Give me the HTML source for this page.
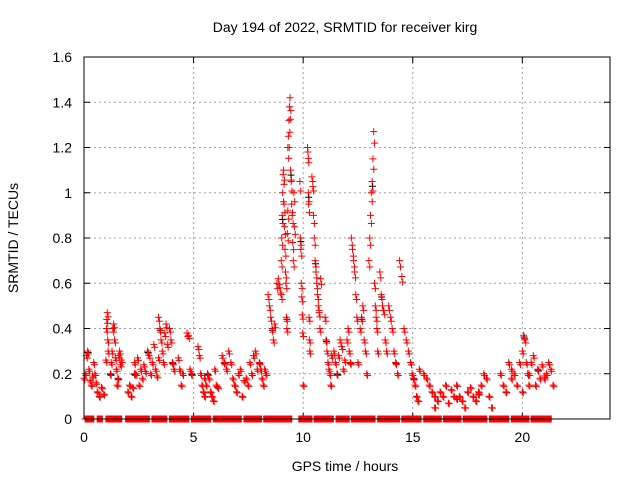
<!DOCTYPE html>
<html><head><meta charset="utf-8"><style>
body{margin:0;background:#fff;}
svg{display:block;font-family:"Liberation Sans",sans-serif;}
</style></head><body>
<svg id="chart" width="640" height="480" viewBox="0 0 640 480" xmlns="http://www.w3.org/2000/svg">
<rect width="640" height="480" fill="#fff"/>
<text x="345" y="32" text-anchor="middle" font-size="14">Day 194 of 2022, SRMTID for receiver kirg</text>
<text x="345" y="471" text-anchor="middle" font-size="14">GPS time / hours</text>
<text transform="translate(18,238) rotate(-90)" text-anchor="middle" font-size="14">SRMTID / TECUs</text>
<g id="grid"></g>
<g id="ticks"></g>
<g id="pts"></g>
<rect x="84" y="57" width="526" height="362" fill="none" stroke="#000" stroke-width="1"/>
</svg>
<script>
const xTicks=[0,5,10,15,20];
const yTicks=[0,0.2,0.4,0.6,0.8,1,1.2,1.4,1.6];
const yTickLabels=["0","0.2","0.4","0.6","0.8","1","1.2","1.4","1.6"];
const groupStart=[0,0.6,1.0,1.2,2.0,2.3,2.9,3.4,3.9,4.3,4.7,5.2,5.5,6.3,6.7,7.4,8.0,8.4,8.8,9.0,9.3,9.85,10.2,10.4,11.0,11.4,12.0,12.6,13.0,13.5,13.9,14.4,14.9,15.5,16.0,17.0,18.0,19.0,19.5,20.0,20.3,21.0];
const groupEnd=[0.55,0.9,1.1,1.7,2.3,2.8,3.4,3.8,4.1,4.5,4.9,5.5,6.1,6.6,7.3,7.9,8.3,8.7,9.0,9.3,9.6,10.0,10.3,10.8,11.3,11.9,12.5,12.9,13.4,13.8,14.3,14.8,15.3,16.0,17.0,18.0,18.6,19.5,20.0,20.3,21.0,21.4];
const groupValues=[
[0.18,0.2,0.28,0.3,0.22,0.17,0.15,0.19,0.25,0.2,0.16],
[0.12,0.1,0.14,0.11],
[0.26,0.4,0.44,0.47,0.35,0.3],
[0.2,0.25,0.3,0.4,0.42,0.35,0.27,0.22,0.15,0.18,0.28,0.3,0.24,0.26],
[0.12,0.15,0.1,0.14,0.2],
[0.25,0.2,0.27,0.15,0.22,0.18,0.24,0.21],
[0.3,0.28,0.2,0.25,0.33,0.22,0.19,0.27],
[0.45,0.4,0.35,0.3,0.25,0.38,0.42,0.33],
[0.4,0.35,0.25,0.22],
[0.27,0.22,0.15,0.2],
[0.38,0.37,0.22,0.2],
[0.32,0.28,0.2,0.15,0.12,0.18],
[0.1,0.15,0.2,0.18,0.12,0.1,0.08,0.22,0.15,0.14],
[0.28,0.25,0.22,0.3],
[0.25,0.18,0.15,0.12,0.2,0.22,0.1,0.17],
[0.18,0.15,0.25,0.2,0.28,0.3,0.22],
[0.25,0.22,0.18,0.15,0.22,0.2],
[0.55,0.5,0.45,0.4,0.35,0.42],
[0.6,0.62,0.58,0.55],
[0.7,0.8,0.9,1.0,1.08,1.1,0.95,0.85,0.75,0.65,0.6,0.45,0.4,0.82,0.92],
[1.2,1.25,1.32,1.38,1.42,1.1,1.05,0.95,0.9,0.78,0.7,1.0,0.85],
[1.05,0.8,0.75,0.6,0.54,0.46,0.38,0.15],
[1.2,1.18,1.0,0.95,0.45,0.35,0.3],
[1.07,1.05,0.9,0.8,0.7,0.65,0.6,0.55,0.5,0.47,0.4,0.62],
[0.45,0.35,0.3,0.25,0.22,0.2,0.15,0.28],
[0.3,0.25,0.2,0.28,0.35,0.32,0.22,0.26],
[0.35,0.4,0.3,0.25,0.8,0.75,0.7,0.65,0.55,0.45,0.25],
[0.4,0.45,0.5,0.35,0.3,0.2],
[0.7,0.8,0.9,1.0,1.05,1.15,1.27,0.6,0.5,0.45,0.4,0.3],
[0.65,0.55,0.5,0.48,0.35,0.3],
[0.5,0.45,0.4,0.3,0.25,0.2],
[0.7,0.63,0.4,0.35,0.3],
[0.25,0.2,0.18,0.15,0.1,0.08,0.22],
[0.2,0.18,0.15,0.12,0.1],
[0.05,0.08,0.12,0.1,0.15,0.07,0.13,0.1,0.09],
[0.15,0.1,0.08,0.05,0.12,0.14,0.1,0.08,0.11],
[0.12,0.15,0.2,0.18,0.1,0.05],
[0.2,0.15,0.12,0.25,0.18],
[0.22,0.2,0.15,0.25,0.12],
[0.3,0.37,0.35,0.25,0.2,0.15],
[0.2,0.25,0.28,0.15,0.22,0.18,0.24,0.19],
[0.18,0.2,0.25,0.22,0.15]];
const zeroStart=[0.05,0.6,1.0,1.9,3.1,3.9,4.9,5.9,7.3,8.2,9.8,10.5,11.5,12.2,13.4,14.5,15.5,16.4,17.3,18.5,19.5,20.4];
const zeroEnd=[0.45,0.85,1.75,3.0,3.8,4.8,5.8,7.2,8.1,9.5,10.4,11.4,12.1,13.3,14.4,15.4,16.3,17.2,18.4,19.4,20.3,21.35];

const X=t=>84+t*(526/24);
const Y=v=>419-v*(362/1.6);
const ns="http://www.w3.org/2000/svg";
const grid=document.getElementById('grid'),ticks=document.getElementById('ticks'),pts=document.getElementById('pts');
function mk(tag,attrs,parent){const e=document.createElementNS(ns,tag);for(const k in attrs)e.setAttribute(k,attrs[k]);parent.appendChild(e);return e;}
xTicks.forEach(t=>{
  const x=X(t);
  if(t>0){const g=mk('line',{x1:x,x2:x,y1:57,y2:419,stroke:'#a0a0a0','stroke-dasharray':'2,3'},grid);
  
  }
  mk('line',{x1:x,x2:x,y1:419,y2:413,stroke:'#000'},ticks);
  mk('line',{x1:x,x2:x,y1:57,y2:63,stroke:'#000'},ticks);
  const l=mk('text',{x:x,y:442,'text-anchor':'middle','font-size':14},ticks);
  l.textContent=String(t);
  
  
});
yTicks.forEach((v,i)=>{
  const y=Y(v);
  if(v>0&&v<1.6){const g=mk('line',{x1:84,x2:610,y1:y,y2:y,stroke:'#a0a0a0','stroke-dasharray':'2,3'},grid);
  
  }
  mk('line',{x1:84,x2:90,y1:y,y2:y,stroke:'#000'},ticks);
  mk('line',{x1:610,x2:604,y1:y,y2:y,stroke:'#000'},ticks);
  const l=mk('text',{x:72,y:y+5,'text-anchor':'end','font-size':14},ticks);
  l.textContent=yTickLabels[i];
  
  
});
let d='',dk='';
function cross(t,v){const x=X(t),y=Y(v);return `M${x-3.5} ${y}h7M${x} ${y-3.5}v7`;}
let cnt=0;
groupStart.forEach((s,i)=>{
  const vals=groupValues[i],n=vals.length;
  vals.forEach((v,j)=>{
    const t=s+(groupEnd[i]-s)*(n>1?j/(n-1):0);
    d+=cross(t,v);
    d+=cross(t+0.04,v*0.96);
    cnt++;
    if(cnt%9==4) dk+=cross(t+0.02,v*0.98);
  });
});
zeroStart.forEach((s,i)=>{for(let t=s;t<=zeroEnd[i]+1e-6;t+=0.04){d+=cross(t,0);}});
const pk=mk('path',{d:dk,stroke:'#000','stroke-width':1,fill:'none'},pts);


const pr=mk('path',{d:d,stroke:'#ff0000','stroke-width':1,fill:'none'},pts);


</script>
</body></html>
